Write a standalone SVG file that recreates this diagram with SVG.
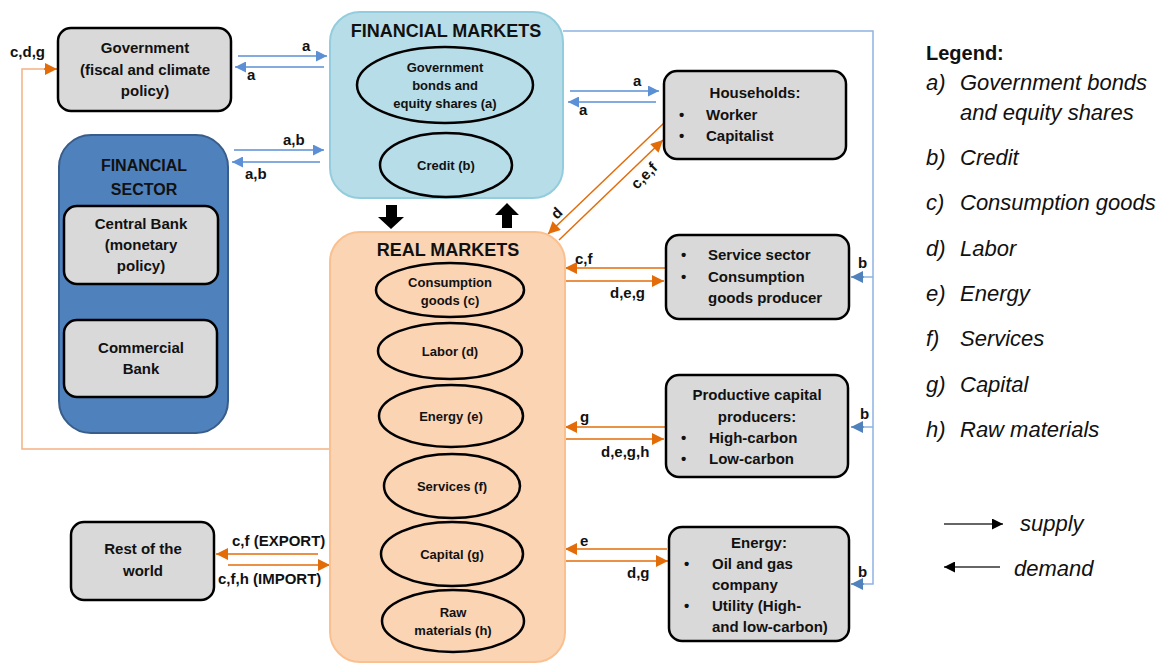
<svg xmlns="http://www.w3.org/2000/svg" width="1165" height="663" viewBox="0 0 1165 663">
<style>
text{font-family:"Liberation Sans",Arial,sans-serif;fill:#111;}
.b{font-weight:bold;font-size:15px;}
.e{font-weight:bold;font-size:13px;}
.t{font-weight:bold;font-size:18px;}
.lab{font-weight:bold;font-size:15px;}
.lg{font-style:italic;font-size:22px;}
.box{fill:#d9d9d9;stroke:#000;stroke-width:2.5;}
.ell{fill:none;stroke:#000;stroke-width:2.5;}
.bl{stroke:#5b8fd6;stroke-width:1.5;fill:none;}
.bl2{stroke:#8db3e2;stroke-width:1.5;fill:none;}
.or{stroke:#e36c09;stroke-width:1.5;fill:none;}
.or2{stroke:#f4b183;stroke-width:1.5;fill:none;}
.k{stroke:#333;stroke-width:1.5;fill:none;}
</style>
<defs>
<marker id="ab" viewBox="0 0 10 10" refX="10" refY="5" markerWidth="14" markerHeight="11" markerUnits="userSpaceOnUse" orient="auto"><path d="M0,0 L10,5 L0,10 z" fill="#5b8fd6"/></marker>
<marker id="ab2" viewBox="0 0 10 10" refX="10" refY="5" markerWidth="13" markerHeight="12" markerUnits="userSpaceOnUse" orient="auto"><path d="M0,0 L10,5 L0,10 z" fill="#4f81bd"/></marker>
<marker id="ao" viewBox="0 0 10 10" refX="10" refY="5" markerWidth="13" markerHeight="12" markerUnits="userSpaceOnUse" orient="auto"><path d="M0,0 L10,5 L0,10 z" fill="#e36c09"/></marker>
<marker id="ak" viewBox="0 0 10 10" refX="10" refY="5" markerWidth="12" markerHeight="11" markerUnits="userSpaceOnUse" orient="auto"><path d="M0,0 L10,5 L0,10 z" fill="#000"/></marker>
</defs>

<g id="connectors">
  <polyline class="or2" points="330,449 22,449 22,69 45,69"/>
  <line class="or" x1="44" y1="69" x2="57" y2="69" marker-end="url(#ao)"/>
  <text class="lab" x="10" y="57">c,d,g</text>
  <line class="bl" x1="238" y1="56" x2="327" y2="56" marker-end="url(#ab)"/>
  <text class="lab" x="302" y="51">a</text>
  <line class="bl" x1="324" y1="67" x2="235" y2="67" marker-end="url(#ab)"/>
  <text class="lab" x="247" y="80">a</text>
  <line class="bl" x1="234" y1="150" x2="324" y2="150" marker-end="url(#ab)"/>
  <text class="lab" x="283" y="145">a,b</text>
  <line class="bl" x1="320" y1="162" x2="232" y2="162" marker-end="url(#ab)"/>
  <text class="lab" x="245" y="179">a,b</text>
  <line class="bl" x1="570" y1="91" x2="659" y2="91" marker-end="url(#ab)"/>
  <text class="lab" x="633" y="86">a</text>
  <line class="bl" x1="656" y1="102" x2="568" y2="102" marker-end="url(#ab)"/>
  <text class="lab" x="579" y="115">a</text>
  <polygon points="386,205 397,205 397,217 404,217 391,229 378,217 386,217" fill="#000"/>
  <polygon points="507,203 519,215 512,215 512,228 502,228 502,215 495,215" fill="#000"/>
  <line class="or" x1="664" y1="123" x2="548" y2="234" marker-end="url(#ao)"/>
  <text class="lab" transform="translate(557,220) rotate(-45)">d</text>
  <line class="or" x1="559" y1="240" x2="663" y2="140" marker-end="url(#ao)"/>
  <text class="lab" transform="translate(637,190) rotate(-45)">c,e,f</text>
  <line class="or" x1="665" y1="268" x2="565" y2="268" marker-end="url(#ao)"/>
  <text class="lab" x="575" y="264">c,f</text>
  <line class="or" x1="565" y1="281" x2="664" y2="281" marker-end="url(#ao)"/>
  <text class="lab" x="610" y="298">d,e,g</text>
  <line class="or" x1="665" y1="427" x2="565" y2="427" marker-end="url(#ao)"/>
  <text class="lab" x="580" y="422">g</text>
  <line class="or" x1="565" y1="439" x2="664" y2="439" marker-end="url(#ao)"/>
  <text class="lab" x="601" y="457">d,e,g,h</text>
  <line class="or" x1="667" y1="549" x2="565" y2="549" marker-end="url(#ao)"/>
  <text class="lab" x="580" y="546">e</text>
  <line class="or" x1="565" y1="561" x2="668" y2="561" marker-end="url(#ao)"/>
  <text class="lab" x="627" y="578">d,g</text>
  <line class="or" x1="318" y1="554" x2="216" y2="554" marker-end="url(#ao)"/>
  <text class="lab" x="232" y="546">c,f (EXPORT)</text>
  <line class="or" x1="228" y1="565" x2="330" y2="565" marker-end="url(#ao)"/>
  <text class="lab" x="218" y="584">c,f,h (IMPORT)</text>
  <polyline class="bl2" points="563,31 873,31 873,584 862,584"/>
  <line class="bl2" x1="873" y1="277" x2="862" y2="277"/>
  <line class="bl2" x1="873" y1="427" x2="862" y2="427"/>
  <line class="bl" x1="864" y1="277" x2="851" y2="277" marker-end="url(#ab2)"/>
  <line class="bl" x1="864" y1="427" x2="851" y2="427" marker-end="url(#ab2)"/>
  <line class="bl" x1="864" y1="584" x2="851" y2="584" marker-end="url(#ab2)"/>
  <text class="lab" x="858" y="268">b</text>
  <text class="lab" x="860" y="419">b</text>
  <text class="lab" x="858" y="577">b</text>
</g>

<g id="government">
  <rect class="box" x="58" y="28" width="173" height="83" rx="13"/>
  <text class="b" text-anchor="middle" x="145" y="53">Government</text>
  <text class="b" text-anchor="middle" x="145" y="75">(fiscal and climate</text>
  <text class="b" text-anchor="middle" x="145" y="96">policy)</text>
</g>

<g id="financial-sector">
  <rect x="59" y="135" width="169" height="298" rx="32" fill="#4f81bd" stroke="#385d8a" stroke-width="2"/>
  <text class="b" text-anchor="middle" x="144" y="171" style="font-size:16px">FINANCIAL</text>
  <text class="b" text-anchor="middle" x="144" y="195" style="font-size:16px">SECTOR</text>
</g>
<g id="central-bank">
  <rect class="box" x="64" y="206" width="154" height="78" rx="13"/>
  <text class="b" text-anchor="middle" x="141" y="229">Central Bank</text>
  <text class="b" text-anchor="middle" x="141" y="250">(monetary</text>
  <text class="b" text-anchor="middle" x="141" y="271">policy)</text>
</g>
<g id="commercial-bank">
  <rect class="box" x="64" y="320" width="153" height="77" rx="13"/>
  <text class="b" text-anchor="middle" x="141" y="353">Commercial</text>
  <text class="b" text-anchor="middle" x="141" y="374">Bank</text>
</g>

<g id="financial-markets">
  <rect x="330" y="12" width="233" height="186" rx="30" fill="#b7dde8" stroke="#93cddd" stroke-width="2"/>
  <text class="t" text-anchor="middle" x="446" y="37">FINANCIAL MARKETS</text>
  <ellipse class="ell" cx="445" cy="85" rx="88" ry="38"/>
  <text class="e" text-anchor="middle" x="445" y="72">Government</text>
  <text class="e" text-anchor="middle" x="445" y="90">bonds and</text>
  <text class="e" text-anchor="middle" x="445" y="108">equity shares (a)</text>
  <ellipse class="ell" cx="446" cy="165" rx="66" ry="32"/>
  <text class="e" text-anchor="middle" x="446" y="170">Credit (b)</text>
</g>

<g id="real-markets">
  <rect x="330" y="232" width="235" height="430" rx="30" fill="#fbd4b4" stroke="#fac090" stroke-width="2"/>
  <text class="t" text-anchor="middle" x="448" y="256">REAL MARKETS</text>
  <ellipse class="ell" cx="450" cy="290" rx="74" ry="27"/>
  <text class="e" text-anchor="middle" x="450" y="287">Consumption</text>
  <text class="e" text-anchor="middle" x="450" y="305">goods (c)</text>
  <ellipse class="ell" cx="450" cy="351" rx="72" ry="28"/>
  <text class="e" text-anchor="middle" x="450" y="356">Labor (d)</text>
  <ellipse class="ell" cx="451" cy="416" rx="72" ry="31"/>
  <text class="e" text-anchor="middle" x="451" y="421">Energy (e)</text>
  <ellipse class="ell" cx="452" cy="486" rx="68" ry="32"/>
  <text class="e" text-anchor="middle" x="452" y="491">Services (f)</text>
  <ellipse class="ell" cx="452" cy="554" rx="71" ry="32"/>
  <text class="e" text-anchor="middle" x="452" y="559">Capital (g)</text>
  <ellipse class="ell" cx="453" cy="621" rx="71" ry="31"/>
  <text class="e" text-anchor="middle" x="453" y="617">Raw</text>
  <text class="e" text-anchor="middle" x="453" y="635">materials (h)</text>
</g>

<g id="households">
  <rect class="box" x="664" y="71" width="182" height="88" rx="13"/>
  <text class="b" text-anchor="middle" x="755" y="98">Households:</text>
  <text class="b" x="679" y="120">•</text>
  <text class="b" x="706" y="120">Worker</text>
  <text class="b" x="679" y="141">•</text>
  <text class="b" x="706" y="141">Capitalist</text>
</g>

<g id="service-sector">
  <rect class="box" x="666" y="235" width="183" height="84" rx="13"/>
  <text class="b" x="681" y="260">•</text>
  <text class="b" x="708" y="260">Service sector</text>
  <text class="b" x="681" y="282">•</text>
  <text class="b" x="708" y="282">Consumption</text>
  <text class="b" x="708" y="303">goods producer</text>
</g>

<g id="productive-capital">
  <rect class="box" x="666" y="375" width="182" height="102" rx="13"/>
  <text class="b" text-anchor="middle" x="757" y="400">Productive capital</text>
  <text class="b" text-anchor="middle" x="757" y="422">producers:</text>
  <text class="b" x="681" y="443">•</text>
  <text class="b" x="709" y="443">High-carbon</text>
  <text class="b" x="681" y="464">•</text>
  <text class="b" x="709" y="464">Low-carbon</text>
</g>

<g id="energy">
  <rect class="box" x="669" y="527" width="180" height="114" rx="13"/>
  <text class="b" text-anchor="middle" x="759" y="548">Energy:</text>
  <text class="b" x="684" y="569">•</text>
  <text class="b" x="712" y="569">Oil and gas</text>
  <text class="b" x="712" y="590">company</text>
  <text class="b" x="684" y="611">•</text>
  <text class="b" x="712" y="611">Utility (High-</text>
  <text class="b" x="712" y="632">and low-carbon)</text>
</g>

<g id="rest-of-world">
  <rect class="box" x="71" y="522" width="143" height="78" rx="13"/>
  <text class="b" text-anchor="middle" x="143" y="554">Rest of the</text>
  <text class="b" text-anchor="middle" x="143" y="576">world</text>
</g>

<g id="legend">
  <text x="926" y="60" style="font-weight:bold;font-size:20px">Legend:</text>
  <text class="lg" x="926" y="90">a)</text><text class="lg" x="960" y="90">Government bonds</text>
  <text class="lg" x="960" y="120">and equity shares</text>
  <text class="lg" x="926" y="165">b)</text><text class="lg" x="960" y="165">Credit</text>
  <text class="lg" x="926" y="210">c)</text><text class="lg" x="960" y="210">Consumption goods</text>
  <text class="lg" x="926" y="256">d)</text><text class="lg" x="960" y="256">Labor</text>
  <text class="lg" x="926" y="301">e)</text><text class="lg" x="960" y="301">Energy</text>
  <text class="lg" x="926" y="346">f)</text><text class="lg" x="960" y="346">Services</text>
  <text class="lg" x="926" y="392">g)</text><text class="lg" x="960" y="392">Capital</text>
  <text class="lg" x="926" y="437">h)</text><text class="lg" x="960" y="437">Raw materials</text>
  <line class="k" x1="944" y1="524" x2="1003" y2="524" marker-end="url(#ak)"/>
  <text class="lg" x="1020" y="531">supply</text>
  <line class="k" x1="1000" y1="567" x2="944" y2="567" marker-end="url(#ak)"/>
  <text class="lg" x="1014" y="576">demand</text>
</g>
</svg>
